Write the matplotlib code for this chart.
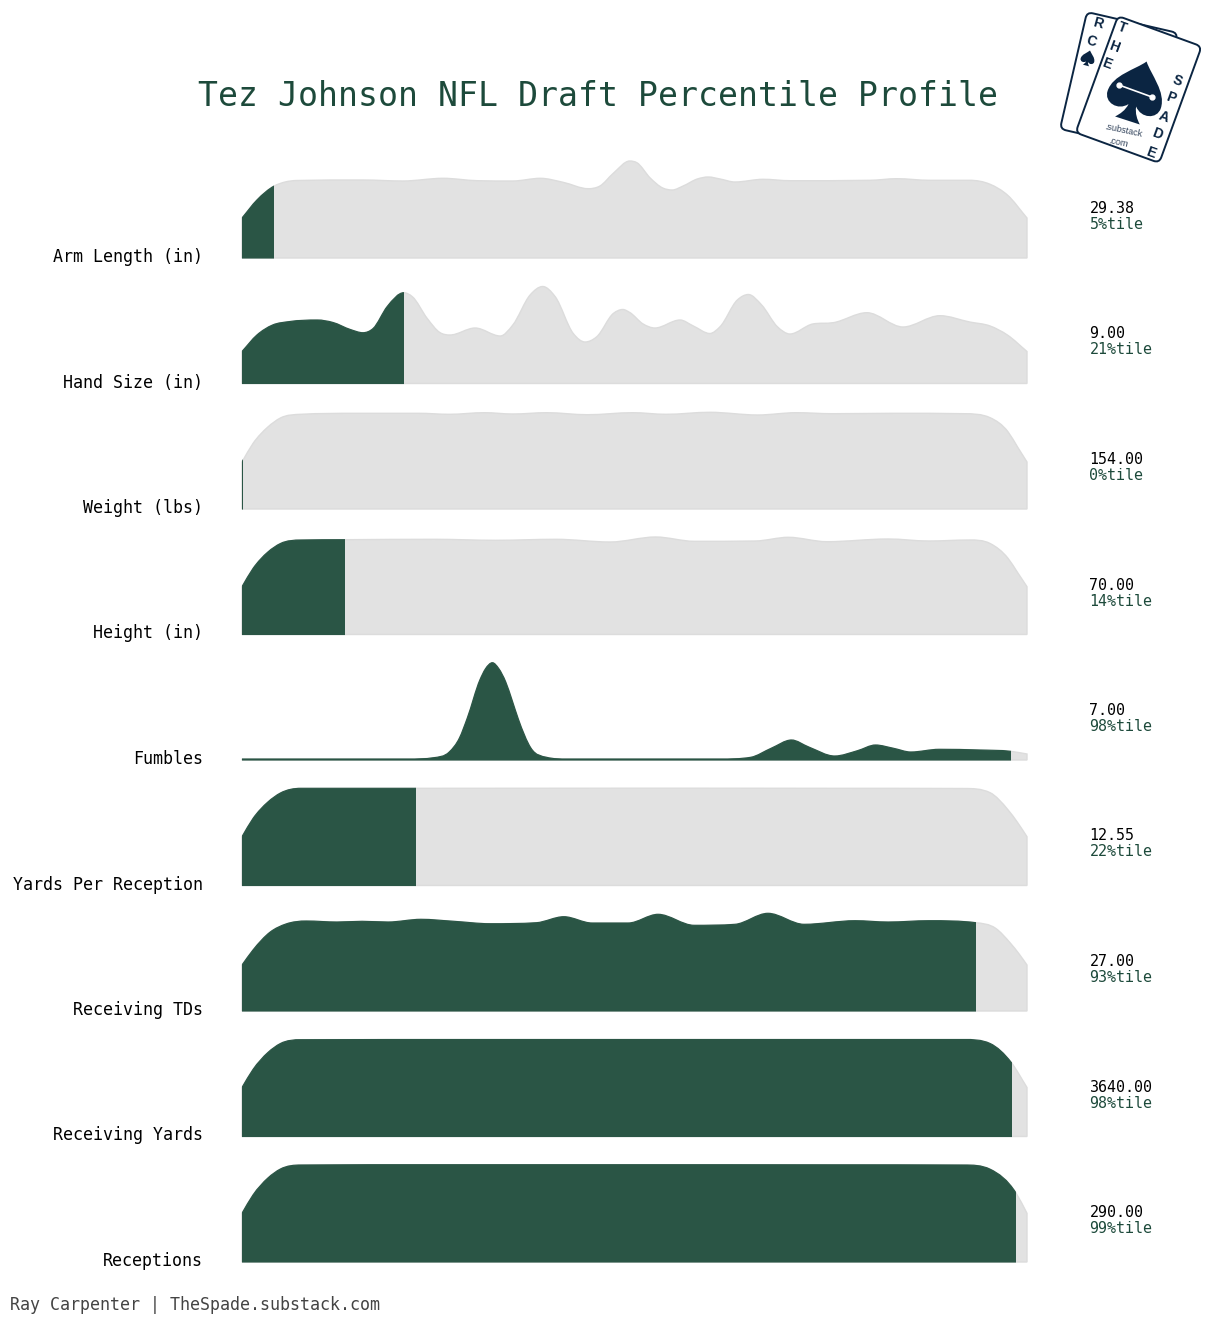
import numpy as np
import matplotlib
matplotlib.use('Agg')
import matplotlib.pyplot as plt
from matplotlib.patches import FancyBboxPatch, PathPatch, Rectangle
from matplotlib.path import Path
from matplotlib.transforms import Affine2D

plt.rcParams['font.family'] = ['DejaVu Sans Mono']

DARK = '#2a5545'
GREY = '#e2e2e2'
GREY_EDGE = '#dcdcdc'
TITLE_COL = '#1d4a3b'
NAVY = '#0b2542'

# Data, top row first. Curve heights are relative density
labels = ['Arm Length (in)', 'Hand Size (in)', 'Weight (lbs)', 'Height (in)', 'Fumbles',
          'Yards Per Reception', 'Receiving TDs', 'Receiving Yards', 'Receptions']
values = ['29.38', '9.00', '154.00', '70.00', '7.00', '12.55', '27.00', '3640.00', '290.00']
pct_labels = ['5%tile', '21%tile', '0%tile', '14%tile', '98%tile', '22%tile', '93%tile', '98%tile', '99%tile']
cuts = [4.1, 20.6, 0.15, 13.1, 98.0, 22.2, 93.5, 98.05, 98.6]

arm_x = [0, 1.9, 4.1, 5.5, 7, 15.4, 20.5, 25.6, 30, 34.5, 38, 40.9, 44.1, 45.6, 47.3, 49.4, 50.3, 52, 53.6, 54.8,
         56.2, 58, 59.4, 60.9, 62.8, 66.4, 69.8, 80, 83.4, 87.6, 92.7, 95.3, 97.5, 100]
arm_y = [40, 58, 72, 76, 77.5, 78, 77, 79.7, 77.3, 77, 79.7, 75.7, 69.3, 72, 84.7, 97, 95.3, 80, 70, 68,
         72, 79, 81, 79, 76, 78.7, 77.3, 77.7, 79.3, 77.7, 77.7, 73.7, 63, 40]

hand_x = [0, 1.9, 3.9, 6.1, 9.6, 11.6, 13.8, 15.4, 16.7, 18.5, 20.6, 21.7, 23.6, 25.2, 26.5, 29.7, 32.9, 34.5, 36.7,
          38.3, 39.9, 42.2, 43.7, 45.2, 47.3, 48.5, 49.4, 51.1, 52.6, 55.8, 57.5, 59.6, 60.9, 63.1, 64.5, 66.2,
          68.2, 69.8, 72.7, 75.3, 79.6, 84.2, 88.9, 92.7, 95.3, 97.5, 100]
hand_y = [32, 48.5, 58.5, 62, 63.5, 61, 54, 50.8, 55, 77, 90.8, 86.8, 65, 51, 48.5, 55.5, 47.5, 58.5, 88.5,
          97, 86.8, 50, 41.5, 46.8, 70, 74, 71, 59.5, 55.5, 63.5, 57.5, 50, 56.8, 83.5, 89, 78.5,
          56.8, 49.5, 59.5, 60.8, 70.8, 56.5, 67.8, 61.5, 57.5, 48.5, 32]

weight_x = [0, 1.4, 3.3, 4.9, 7.5, 14.7, 22.5, 26.4, 30.9, 34.5, 38.8, 44, 49.8, 54, 59.6, 65.7, 70.6, 75.2, 83,
            92, 95.3, 97.6, 98.8, 100]
weight_y = [47, 65.5, 82, 91, 94.7, 95.7, 95.7, 94.7, 96.3, 95, 96.3, 94.3, 96.3, 94.7, 96.7, 94, 96.3, 95.3, 95.7,
            95.3, 91.3, 77, 62, 47]

height_x = [0, 1.4, 3.3, 4.9, 7.5, 13.1, 24.5, 32.3, 40, 46.9, 52.7, 57.6, 65.4, 69.6, 74.5, 82.3, 87.5, 92.7,
            95.3, 97.6, 98.8, 100]
height_y = [47.8, 66, 82.5, 91, 94.5, 94.8, 95.2, 94.2, 95.2, 92.5, 97.5, 93.2, 93.5, 97.2, 92.8, 95.5, 93.5, 94.5,
            91, 76, 62, 47.8]

fumbles_x = [0, 21.2, 24.4, 26.4, 27.7, 28.7, 30.3, 31, 31.9, 32.7, 33.6, 34.4, 35.2, 36.8, 38.8, 41.4, 60.9, 64.8,
             67.4, 70, 72.2, 75.5, 78.4, 80.7, 83, 85.2, 88.8, 94, 97.9, 100]
fumbles_y = [1, 1, 2.3, 8, 22, 42, 80, 91, 97.3, 91.5, 78, 60, 41, 12, 2.7, 1, 1, 2.7,
             11.7, 20, 13, 4, 9.3, 15, 11.7, 8, 10.7, 10, 8.7, 6]

ypr_x = [0, 1.4, 3.3, 4.9, 7.5, 24.5, 50, 75, 92, 95.3, 97.6, 98.8, 100]
ypr_y = [48.8, 67, 83.5, 92.5, 97.2, 97.2, 97.3, 97.2, 97, 92.8, 75.5, 63, 48.8]

tds_x = [0, 1.4, 3.6, 5.6, 8.2, 12.1, 15.3, 18.6, 22.8, 27, 31.6, 37.5, 41, 44.6, 49.2, 53, 57.6, 62.8, 67, 71.6,
         78.1, 82.3, 87.5, 93.5, 96, 97.9, 99, 100]
tds_y = [46, 61, 79, 87, 90, 89, 89.7, 89, 91.7, 89.7, 87.3, 88.3, 94.3, 88, 88, 96.7, 85.7, 86.7, 97.7, 86.7,
         90.3, 89, 90.3, 88.3, 82.7, 67.7, 57, 46]

yards_x = [0, 1.4, 3.3, 4.9, 7.5, 30, 60, 92, 95.3, 98, 100]
yards_y = [49, 67, 84, 93, 96.8, 97, 97, 97, 93, 74, 49]

rec_x = [0, 1.4, 3.3, 4.9, 7.5, 25, 50, 75, 92, 95.3, 98.6, 100]
rec_y = [48.7, 67, 84, 93, 97, 97.3, 97.3, 97.2, 97, 92.8, 69, 48.7]

curves_x = [arm_x, hand_x, weight_x, height_x, fumbles_x, ypr_x, tds_x, yards_x, rec_x]
curves_y = [arm_y, hand_y, weight_y, height_y, fumbles_y, ypr_y, tds_y, yards_y, rec_y]

W, H = 1220, 1323
baselines = [258, 383.5, 509, 634.5, 760, 885.5, 1011, 1136.5, 1262]


def ridge_path(x, y):
    # smooth closed outline through the read points, flat at the local peaks
    x = np.array(x, dtype=float)
    y = np.array(y, dtype=float)
    h = np.diff(x)
    d = np.diff(y) / h
    m = np.zeros(len(x))
    m[0] = d[0]
    m[-1] = d[-1]
    for i in range(1, len(x) - 1):
        if d[i - 1] * d[i] > 0:
            avg = (h[i] * d[i - 1] + h[i - 1] * d[i]) / (h[i - 1] + h[i])
            limit = 3 * min(abs(d[i - 1]), abs(d[i]))
            m[i] = np.sign(avg) * min(abs(avg), limit)
    verts = [(x[0], 0), (x[0], y[0])]
    codes = [Path.MOVETO, Path.LINETO]
    for i in range(len(x) - 1):
        dx = h[i] / 3
        verts += [(x[i] + dx, y[i] + m[i] * dx),
                  (x[i + 1] - dx, y[i + 1] - m[i + 1] * dx),
                  (x[i + 1], y[i + 1])]
        codes += [Path.CURVE4] * 3
    verts += [(x[-1], 0), (x[0], 0)]
    codes += [Path.LINETO, Path.CLOSEPOLY]
    return Path(verts, codes)


fig = plt.figure(figsize=(W / 100, H / 100), dpi=100)

for i in range(len(labels)):
    ax = fig.add_axes([242 / W, 1 - baselines[i] / H, 785 / W, 100 / H])
    ax.set_xlim(0, 100)
    ax.set_ylim(0, 100)
    ax.axis('off')
    outline = ridge_path(curves_x[i], curves_y[i])
    ax.add_patch(PathPatch(outline, facecolor=GREY, edgecolor=GREY_EDGE, lw=1, clip_on=False))
    dark = PathPatch(outline, facecolor=DARK, edgecolor=DARK, lw=0.8)
    ax.add_patch(dark)
    dark.set_clip_path(Rectangle((0, -1), cuts[i], 102, transform=ax.transData))

# Overlay in pixel coordinates for the text and the logo
over = fig.add_axes([0, 0, 1, 1])
over.set_xlim(0, W)
over.set_ylim(H, 0)
over.axis('off')
over.patch.set_alpha(0)

over.text(598, 96, 'Tez Johnson NFL Draft Percentile Profile', fontsize=23.9, color=TITLE_COL,
          ha='center', va='center')
over.text(10, 1305, 'Ray Carpenter | TheSpade.substack.com', fontsize=12, color='#444444', va='center')

for i in range(len(labels)):
    b = baselines[i]
    over.text(203, b - 1, labels[i], fontsize=12, color='black', ha='right', va='center')
    over.text(1089.5, b - 49.5, values[i], fontsize=10.8, color='black', va='center')
    over.text(1089.5, b - 33.5, pct_labels[i], fontsize=10.8, color=TITLE_COL, va='center')

# Logo: two tilted cards with a spade
spade_verts = [(0, -31), (8, -20), (28, -8), (28, 9), (28, 21), (12, 25), (4, 15), (5, 22), (9, 27), (13, 31),
               (-13, 31), (-9, 27), (-5, 22), (-4, 15), (-12, 25), (-28, 21), (-28, 9), (-28, -8), (-8, -20), (0, -31)]
spade_codes = [Path.MOVETO] + [Path.CURVE4] * 9 + [Path.LINETO] + [Path.CURVE4] * 9
spade = Path(spade_verts, spade_codes)


def card(x, y, w, h, angle):
    tr = Affine2D().rotate_deg(angle).translate(x, y) + over.transData
    over.add_patch(FancyBboxPatch((0, 0), w, h, boxstyle='round,pad=0,rounding_size=6', facecolor='white',
                                  edgecolor=NAVY, lw=1.4, transform=tr))


def draw_spade(x, y, scale, angle):
    tr = Affine2D().scale(scale).rotate_deg(angle).translate(x, y) + over.transData
    over.add_patch(PathPatch(spade, facecolor=NAVY, edgecolor='none', transform=tr))


card(1087, 12, 93, 120, 13)
for ch, x, y in zip('RC', [1098, 1091], [23, 41]):
    over.text(x, y, ch, fontsize=10, color=NAVY, family='Liberation Sans', weight='bold', rotation=-15,
              ha='center', va='center')
draw_spade(1088, 58, 0.25, 15)

card(1118, 16, 89, 124, 20)
for ch, x, y in zip('THE', [1122, 1114, 1107], [28, 47, 64]):
    over.text(x, y, ch, fontsize=10, color=NAVY, family='Liberation Sans', weight='bold', rotation=-20,
              ha='center', va='center')
for ch, x, y in zip('SPADE', [1177, 1171, 1164, 1157, 1151], [81, 98, 117, 134, 153]):
    over.text(x, y, ch, fontsize=10, color=NAVY, family='Liberation Sans', weight='bold', rotation=-20,
              ha='center', va='center')
draw_spade(1137, 91, 1.0, 18)
over.plot([1119, 1152], [85, 97], color='white', lw=1.2)
over.plot([1119, 1152], [85, 97], 'o', color='white', ms=3.5)
over.text(1123, 131, '.substack', fontsize=6.5, color='#33445c', family='Liberation Sans', rotation=-12,
          ha='center', va='center')
over.text(1118, 143, '.com', fontsize=6.5, color='#33445c', family='Liberation Sans', rotation=-12,
          ha='center', va='center')

plt.savefig('out.png', dpi=100)
plt.close()
